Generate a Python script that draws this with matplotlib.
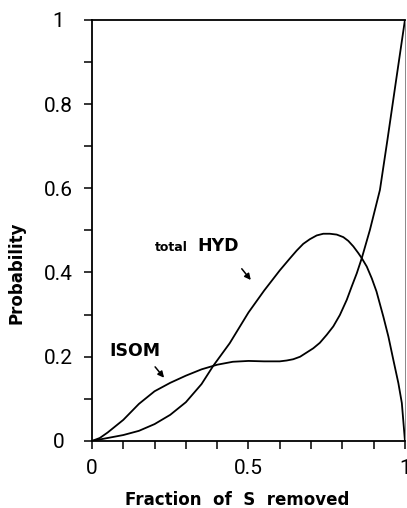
import numpy as np
import matplotlib

matplotlib.use("Agg")

import matplotlib.pyplot as plt

# ==========================================
# DATA
# ==========================================

isom_x = [0.0, 0.025, 0.05, 0.10, 0.15, 0.20, 0.25, 0.30, 0.35, 0.40,
          0.45, 0.50, 0.55, 0.60, 0.622, 0.643, 0.665, 0.686, 0.707, 0.728,
          0.75, 0.771, 0.792, 0.814, 0.83, 0.846, 0.862, 0.888, 0.92, 0.944,
          0.971, 1.0]
isom_y = [0.0, 0.007, 0.020, 0.050, 0.088, 0.118, 0.138, 0.155, 0.170, 0.181,
          0.188, 0.190, 0.189, 0.189, 0.191, 0.194, 0.200, 0.210, 0.220, 0.233,
          0.252, 0.272, 0.299, 0.335, 0.367, 0.398, 0.434, 0.501, 0.596, 0.715,
          0.853, 1.0]

hyd_x = [0.0, 0.05, 0.10, 0.15, 0.20, 0.25, 0.30, 0.35, 0.388, 0.44,
         0.50, 0.55, 0.60, 0.633, 0.654, 0.675, 0.696, 0.718, 0.739, 0.76,
         0.782, 0.803, 0.819, 0.835, 0.851, 0.862, 0.878, 0.894, 0.909, 0.931,
         0.947, 0.963, 0.979, 0.99, 1.0]
hyd_y = [0.0, 0.007, 0.014, 0.024, 0.040, 0.062, 0.092, 0.135, 0.179, 0.232,
         0.305, 0.357, 0.405, 0.434, 0.452, 0.468, 0.479, 0.488, 0.492, 0.492,
         0.490, 0.484, 0.475, 0.462, 0.446, 0.434, 0.414, 0.386, 0.355, 0.295,
         0.248, 0.192, 0.137, 0.090, 0.0]

x_ticks = [0, 0.5, 1]
x_tick_labels = ["0", "0.5", "1"]
y_ticks = [0, 0.2, 0.4, 0.6, 0.8, 1]
y_tick_labels = ["0", "0.2", "0.4", "0.6", "0.8", "1"]

# ==========================================
# FIGURE
# ==========================================

fig = plt.figure(figsize=(4.07, 5.08), dpi=100)

ax = fig.add_axes([0.226, 0.132, 0.769, 0.829])

ax.plot(isom_x, isom_y, color="black", lw=1.3)
ax.plot(hyd_x, hyd_y, color="black", lw=1.3)

ax.set_xlim(0, 1)
ax.set_ylim(0, 1)

# ==========================================
# SPINES / TICKS
# ==========================================

for side in ["left", "bottom", "top"]:
    ax.spines[side].set_linewidth(1.3)

ax.spines["right"].set_linewidth(0.7)
ax.spines["right"].set_color("#888888")

tick_font = dict(family="Roboto", weight="normal", size=15, color="black")

ax.set_xticks(x_ticks)
ax.set_xticklabels(x_tick_labels, fontdict=tick_font)
ax.set_yticks(y_ticks)
ax.set_yticklabels(y_tick_labels, fontdict=tick_font, ha="center")

ax.set_xticks(np.arange(0, 1.01, 0.1), minor=True)
ax.set_yticks(np.arange(0, 1.01, 0.1), minor=True)

ax.tick_params(which="both", direction="out", length=6, width=1.1,
               top=False, right=False)
ax.tick_params(axis="x", pad=7)
ax.tick_params(axis="y", pad=18)

# ==========================================
# LABELS
# ==========================================

ax.set_xlabel("Fraction  of  S  removed", fontsize=12, fontweight="bold")
ax.xaxis.set_label_coords(0.463, -0.119)

ax.set_ylabel("Probability", fontsize=12, fontweight="bold")
ax.yaxis.set_label_coords(-0.214, 0.399)

ax.text(0.137, 0.214, "ISOM", fontsize=12.5, fontweight="bold",
        ha="center", va="center")
ax.annotate("", xy=(0.236, 0.145), xytext=(0.196, 0.181),
            arrowprops=dict(arrowstyle="-|>", color="black", lw=1.1,
                            mutation_scale=9))

ax.text(0.254, 0.45, "total", fontsize=9, fontweight="bold",
        ha="center", va="baseline")
ax.text(0.403, 0.45, "HYD", fontsize=12.5, fontweight="bold",
        ha="center", va="baseline")
ax.annotate("", xy=(0.513, 0.377), xytext=(0.473, 0.414),
            arrowprops=dict(arrowstyle="-|>", color="black", lw=1.1,
                            mutation_scale=9))

fig.savefig("out.png", dpi=100)
